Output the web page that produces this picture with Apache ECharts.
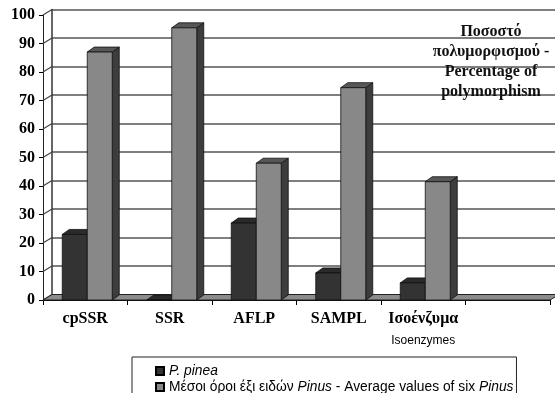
<!DOCTYPE html>
<html>
<head>
<meta charset="utf-8">
<script src="https://cdn.jsdelivr.net/npm/echarts@6/dist/echarts.min.js"></script>
<style>
  html, body { margin: 0; padding: 0; background: #fff; }
  #chart { width: 555px; height: 393px; }
</style>
</head>
<body>
<div id="chart"></div>
<script>
// Categories (the last slot is left empty on purpose)
const categories = ['cpSSR', 'SSR', 'AFLP', 'SAMPL', 'Ισοένζυμα', ''];
const subLabels  = ['', '', '', '', 'Isoenzymes', ''];

// Percentage of polymorphism
const pineaValues   = [23, 0, 27, 9.5, 6];
const averageValues = [87, 95.5, 48, 74.5, 41.5];

const yTicks = [0, 10, 20, 30, 40, 50, 60, 70, 80, 90, 100];

const seriesNames = [
  'P. pinea',
  'Μέσοι όροι έξι ειδών Pinus - Average values of six Pinus'
];

// depth offsets of the pseudo-3D look
const WALL_DX = 9, WALL_DY = -5.5;
const BAR_DX = 7, BAR_DY = -5;
const BAR_W = 25;

const SERIF = '"Liberation Serif", "DejaVu Serif", serif';
const SANS = '"Liberation Sans", Arial, sans-serif';

function bar3d(front, top, side, shift) {
  return function (params, api) {
    const c = api.value(0), v = api.value(1);
    const pTop = api.coord([c, v]);
    const pBot = api.coord([c, 0]);
    const x0 = pTop[0] + shift, x1 = x0 + BAR_W;
    const yT = pTop[1], yB = pBot[1];
    const stroke = { stroke: '#111', lineWidth: 0.8 };
    return {
      type: 'group',
      children: [
        { type: 'polygon', shape: { points: [[x1, yB], [x1 + BAR_DX, yB + BAR_DY], [x1 + BAR_DX, yT + BAR_DY], [x1, yT]] },
          style: Object.assign({ fill: side }, stroke) },
        { type: 'polygon', shape: { points: [[x0, yT], [x1, yT], [x1 + BAR_DX, yT + BAR_DY], [x0 + BAR_DX, yT + BAR_DY]] },
          style: Object.assign({ fill: top }, stroke) },
        { type: 'rect', shape: { x: x0, y: yT, width: BAR_W, height: yB - yT },
          style: Object.assign({ fill: front }, stroke) }
      ]
    };
  };
}

const chart = echarts.init(document.getElementById('chart'), null, { renderer: 'canvas' });

chart.setOption({
  animation: false,
  backgroundColor: '#fff',
  title: {
    text: 'Ποσοστό\nπολυμορφισμού -\nPercentage of\npolymorphism',
    left: 491,
    top: 22,
    textAlign: 'center',
    padding: 0,
    textStyle: { fontFamily: SERIF, fontWeight: 'bold', fontSize: 16, lineHeight: 20, color: '#111' }
  },
  legend: {
    orient: 'vertical',
    left: 132,
    top: 357,
    height: 60,
    padding: [7, 3, 12, 23],
    itemGap: 2,
    itemWidth: 8,
    itemHeight: 8,
    icon: 'rect',
    borderColor: '#222',
    borderWidth: 1,
    data: seriesNames,
    formatter: function (name) {
      if (name === seriesNames[0]) return '{i|P. pinea}';
      return '{n|Μέσοι όροι έξι ειδών }{i|Pinus}{n| - Average values of six }{i|Pinus}';
    },
    textStyle: {
      color: '#000', fontFamily: SANS, fontSize: 13.8,
      rich: {
        n: { fontFamily: SANS, fontSize: 13.8, lineHeight: 16, color: '#000' },
        i: { fontFamily: SANS, fontSize: 13.8, lineHeight: 16, fontStyle: 'italic', color: '#000' }
      }
    }
  },
  grid: [
    // front plane
    { left: 43, right: 5, top: 15, bottom: 93 },
    // back wall
    { left: 43 + WALL_DX, right: 5 - WALL_DX, top: 15 + WALL_DY, bottom: 93 - WALL_DY }
  ],
  xAxis: [
    {
      type: 'category', gridIndex: 0, data: categories,
      axisLine: { show: true, lineStyle: { color: '#000', width: 1 } },
      axisTick: { show: true, length: 5, lineStyle: { color: '#000' } },
      axisLabel: {
        interval: 0, margin: 9, color: '#000',
        formatter: function (v, i) {
          return subLabels[i] ? '{g|' + v + '}\n{e|' + subLabels[i] + '}' : '{g|' + v + '}';
        },
        rich: {
          g: { fontFamily: SERIF, fontWeight: 'bold', fontSize: 16, lineHeight: 20, color: '#000' },
          e: { fontFamily: SANS, fontSize: 12, lineHeight: 24, color: '#000' }
        }
      },
      splitLine: { show: false }
    },
    {
      type: 'category', gridIndex: 1, data: categories,
      axisLine: { show: false }, axisTick: { show: false }, axisLabel: { show: false }
    }
  ],
  yAxis: [
    {
      type: 'value', gridIndex: 0, min: 0, max: 100, interval: 10,
      axisLine: { show: true, lineStyle: { color: '#222', width: 1 } },
      axisTick: { show: true, length: 4, lineStyle: { color: '#000' } },
      axisLabel: { margin: 8, color: '#000', fontFamily: SERIF, fontWeight: 'bold', fontSize: 16 },
      splitLine: { show: false }
    },
    {
      type: 'value', gridIndex: 1, min: 0, max: 100, interval: 10,
      axisLine: { show: true, lineStyle: { color: '#333', width: 1.5 } },
      axisTick: { show: false }, axisLabel: { show: false },
      splitLine: { show: true, lineStyle: { color: '#555', width: 1.5 } }
    }
  ],
  series: [
    {
      // side wall edges joining the front ticks to the back gridlines
      type: 'custom', xAxisIndex: 0, yAxisIndex: 0, silent: true, z: 1,
      data: yTicks.map(function (t) { return [0, t]; }),
      renderItem: function (params, api) {
        const x0 = params.coordSys.x;
        const y = api.coord([0, api.value(1)])[1];
        return { type: 'line', shape: { x1: x0, y1: y, x2: x0 + WALL_DX, y2: y + WALL_DY },
                 style: { stroke: '#444', lineWidth: 1.2 } };
      }
    },
    {
      // floor
      type: 'custom', xAxisIndex: 0, yAxisIndex: 0, silent: true, z: 2,
      data: [[0, 0]],
      renderItem: function (params, api) {
        const cs = params.coordSys;
        const y0 = api.coord([0, 0])[1];
        const L = cs.x, R = cs.x + cs.width;
        return { type: 'polygon',
                 shape: { points: [[L, y0], [R, y0], [R + WALL_DX, y0 + WALL_DY], [L + WALL_DX, y0 + WALL_DY]] },
                 style: { fill: '#8c8c8c', stroke: '#222', lineWidth: 1 } };
      }
    },
    {
      name: seriesNames[0],
      type: 'custom', xAxisIndex: 0, yAxisIndex: 0, z: 3,
      itemStyle: { color: '#333333', borderColor: '#000', borderWidth: 0.8 },
      encode: { x: 0, y: 1 },
      data: pineaValues.map(function (v, i) { return [i, v]; }),
      renderItem: bar3d('#333333', '#2a2a2a', '#1f1f1f', -23)
    },
    {
      name: seriesNames[1],
      type: 'custom', xAxisIndex: 0, yAxisIndex: 0, z: 4,
      itemStyle: { color: '#888888', borderColor: '#000', borderWidth: 0.8 },
      encode: { x: 0, y: 1 },
      data: averageValues.map(function (v, i) { return [i, v]; }),
      renderItem: bar3d('#888888', '#575757', '#3d3d3d', 2)
    }
  ]
});
</script>
</body>
</html>
